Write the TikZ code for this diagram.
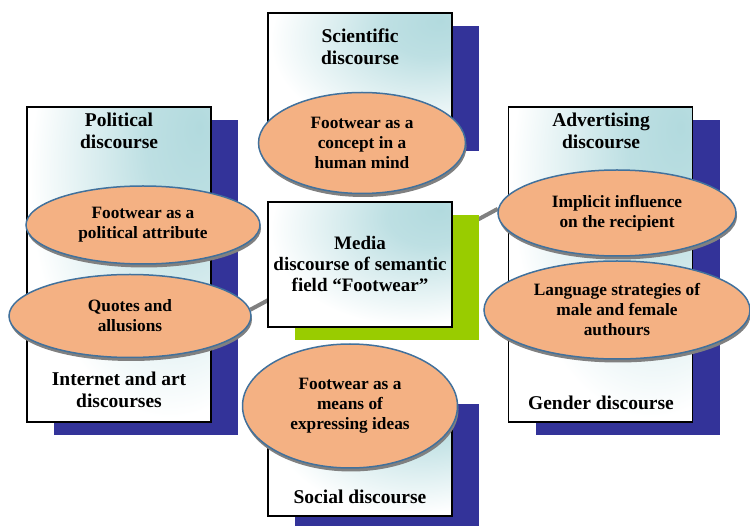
\documentclass[tikz,border=0pt]{standalone}
\usepackage{fontspec}
\setmainfont{Liberation Serif}
\usetikzlibrary{shapes.geometric,shadows,positioning,backgrounds}
\definecolor{navyshade}{RGB}{51,51,153}
\definecolor{limeshade}{RGB}{153,204,0}
\definecolor{paleteal}{RGB}{178,218,222}
\definecolor{salmon}{RGB}{244,177,131}
\definecolor{rimblue}{RGB}{65,113,156}
\definecolor{linkgray}{RGB}{128,128,128}
\pgfdeclareradialshading{cornerglow}{\pgfpoint{22bp}{22bp}}{color(0bp)=(paleteal); color(12bp)=(paleteal!85!white); color(38bp)=(white); color(100bp)=(white)}
\tikzset{
panel/.style={draw=black,line width=1.5pt,shade,shading=cornerglow,minimum width=184pt,minimum height=125pt},
field/.style={panel,general shadow={fill=navyshade,shadow xshift=27pt,shadow yshift=-13pt}},
tallfield/.style={field,minimum height=315pt},
hub/.style={panel,general shadow={fill=limeshade,shadow xshift=27pt,shadow yshift=-13pt},align=center,font=\fontsize{19}{21}\selectfont\bfseries},
heading/.style={align=center,font=\fontsize{19.5}{21.5}\selectfont\bfseries},
aspect/.style={ellipse,draw=rimblue,line width=1.5pt,fill=salmon,align=center,inner sep=0pt,font=\fontsize{17.3}{20}\selectfont\bfseries,drop shadow={fill=gray,opacity=1,shadow xshift=1pt,shadow yshift=-3.5pt}},
link/.style={draw=linkgray,line width=4pt}
}
\begin{document}
\begin{tikzpicture}[x=1pt,y=-1pt]
\useasboundingbox (0,0) rectangle (750,526);
\clip (0,0) rectangle (750,526);
\node[field](sci) at (360,75.5){};
\node[tallfield](pol) at (119,264.5){};
\node[tallfield](adv) at (600.5,264.5){};
\node[hub](media) at (360,264.5){Media\\discourse of semantic\\field ``Footwear''};
\node[field](soc) at (360,453.5){};
\node[heading](scititle) at (360,47){Scientific\\discourse};
\node[heading](poltitle) at (119,131){Political\\discourse};
\node[heading](nettitle) at (119,390){Internet and art\\discourses};
\node[heading](advtitle) at (601,131){Advertising\\discourse};
\node[heading](gentitle) at (601,403){Gender discourse};
\node[heading](soctitle) at (360,497){Social discourse};
\node[aspect,minimum width=207pt,minimum height=101pt](concept) at (362,143){Footwear as a\\concept in a\\human mind};
\node[aspect,minimum width=234pt,minimum height=78pt](attr) at (143,225){Footwear as a\\political attribute};
\node[aspect,minimum width=242pt,minimum height=83pt](quotes) at (130,316){Quotes and\\allusions};
\node[aspect,minimum width=238pt,minimum height=86pt](infl) at (617,213){Implicit influence\\on the recipient};
\node[aspect,minimum width=266pt,minimum height=98pt](strat) at (617,310){Language strategies of\\male and female\\authours};
\node[aspect,minimum width=215pt,minimum height=124pt](ideas) at (350,406){Footwear as a\\means of\\expressing ideas};
\coordinate(hubL) at (300,283);\coordinate(hubR) at (440,240);
\begin{pgfonlayer}{background}
\draw[link](quotes.3)--(hubL);\draw[link](infl.178)--(hubR);
\end{pgfonlayer}
\end{tikzpicture}
\end{document}
